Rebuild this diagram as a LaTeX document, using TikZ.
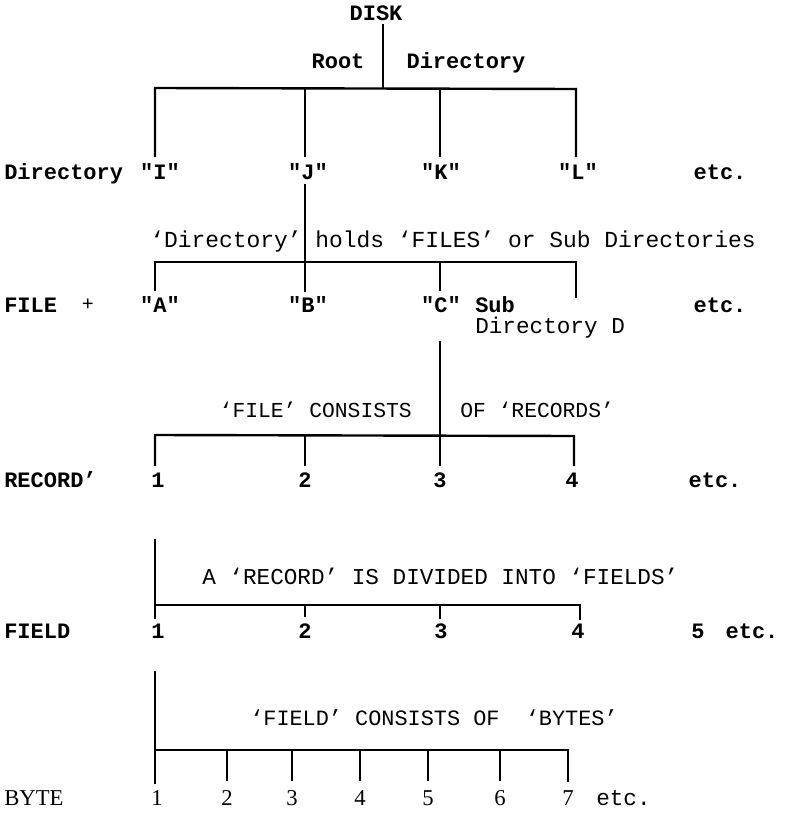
\documentclass[tikz,border=0pt]{standalone}
\usepackage{fontspec}
\setmainfont{Liberation Serif}
\setmonofont{Liberation Mono}
\tikzset{
  bus/.style={line width=1.8pt, line cap=rect},
  lbl/.style={inner sep=0pt, font=\fontsize{16.5}{18}\selectfont\ttfamily\bfseries},
  txt/.style={inner sep=0pt, font=\fontsize{17}{19}\selectfont\ttfamily},
  ser/.style={inner sep=0pt, font=\fontsize{17}{19}\selectfont\rmfamily},
}
\begin{document}
\begin{tikzpicture}[x=0.75pt,y=-0.75pt]
\useasboundingbox (0,0) rectangle (794,817);
% ---------- level 1 ----------
\node[lbl, anchor=base] (disk) at (376,21) {DISK};
\node[lbl, anchor=base] (root) at (338,69) {Root};
\node[lbl, anchor=base] (rootdir) at (466,69) {Directory};
\coordinate (d0) at (383,25);
\coordinate (h1a) at (155,88); \coordinate (h1b) at (305,88);
\coordinate (h1c) at (383,88); \coordinate (h1d) at (440,90);
\coordinate (h1e) at (576,89);
\coordinate (v1a) at (155,156); \coordinate (v1b) at (305,156);
\coordinate (v1d) at (440,156); \coordinate (v1e) at (576,156);
\draw[bus] (d0) -- (h1c);
\draw[bus] (v1a) -- (h1a) -- (h1e) -- (v1e);
\draw[bus] (h1b) -- (v1b);
\draw[bus] (h1d) -- (v1d);
% row Directory
\node[lbl, anchor=base west] (dirlbl) at (4,179) {Directory};
\node[lbl, anchor=base] (qI) at (160,179) {"I"};
\node[lbl, anchor=base] (qJ) at (308,179) {"J"};
\node[lbl, anchor=base] (qK) at (441,179) {"K"};
\node[lbl, anchor=base] (qL) at (578,179) {"L"};
\node[lbl, anchor=base] (etc1) at (720,179) {etc.};
% ---------- level 2 ----------
\node[txt, anchor=base west, font=\fontsize{17.2}{19}\selectfont\ttfamily] (t2) at (150,247) {‘Directory’ holds ‘FILES’ or Sub Directories};
\coordinate (j0) at (305,185); \coordinate (j1) at (305,291);
\coordinate (h2a) at (155,262); \coordinate (h2d) at (440,262);
\coordinate (h2e) at (576,262);
\coordinate (v2a) at (155,290); \coordinate (v2d) at (440,290);
\coordinate (v2e) at (576,297);
\draw[bus] (j0) -- (j1);
\draw[bus] (v2a) -- (h2a) -- (h2e) -- (v2e);
\draw[bus] (h2d) -- (v2d);
% row FILE
\node[lbl, anchor=base west] (filelbl) at (4,312) {FILE};
\node[lbl, anchor=base, font=\fontsize{15}{16}\selectfont\ttfamily] (plus) at (88,310) {+};
\node[lbl, anchor=base] (qA) at (160,312) {"A"};
\node[lbl, anchor=base] (qB) at (308,312) {"B"};
\node[lbl, anchor=base] (qC) at (441,312) {"C"};
\node[lbl, anchor=base west] (sub) at (475,312) {Sub};
\node[txt, anchor=base west] (subdir) at (475,333) {Directory D};
\node[lbl, anchor=base] (etc2) at (720,312) {etc.};
% ---------- level 3 ----------
\node[txt, anchor=base east, font=\fontsize{16}{18}\selectfont\ttfamily] (t3a) at (412,417) {‘FILE’ CONSISTS};
\node[txt, anchor=base west, font=\fontsize{16}{18}\selectfont\ttfamily] (t3b) at (460,417) {OF ‘RECORDS’};
\coordinate (c0) at (440,342); \coordinate (c1) at (440,465);
\coordinate (h3a) at (155,435); \coordinate (h3b) at (305,436);
\coordinate (h3e) at (574,436);
\coordinate (v3a) at (155,465); \coordinate (v3b) at (305,465);
\coordinate (v3e) at (574,465);
\draw[bus] (c0) -- (c1);
\draw[bus] (v3a) -- (h3a) -- (h3e) -- (v3e);
\draw[bus] (h3b) -- (v3b);
% row RECORD
\node[lbl, anchor=base west] (reclbl) at (4,487) {RECORD’};
\node[lbl, anchor=base] (r1) at (158,487) {1};
\node[lbl, anchor=base] (r2) at (305,487) {2};
\node[lbl, anchor=base] (r3) at (440,487) {3};
\node[lbl, anchor=base] (r4) at (572,487) {4};
\node[lbl, anchor=base] (etc3) at (715,487) {etc.};
% ---------- level 4 ----------
\node[txt, anchor=base west] (t4) at (202,584) {A ‘RECORD’ IS DIVIDED INTO ‘FIELDS’};
\coordinate (e0) at (155,540); \coordinate (e1) at (155,618);
\coordinate (h4a) at (155,605); \coordinate (h4b) at (305,605);
\coordinate (h4c) at (440,605); \coordinate (h4e) at (580,605);
\coordinate (v4b) at (305,616); \coordinate (v4c) at (440,618);
\coordinate (v4e) at (580,619);
\draw[bus] (e0) -- (e1);
\draw[bus] (h4a) -- (h4e) -- (v4e);
\draw[bus] (h4b) -- (v4b);
\draw[bus] (h4c) -- (v4c);
% row FIELD
\node[lbl, anchor=base west] (fldlbl) at (4,638) {FIELD};
\node[lbl, anchor=base] (f1) at (158,638) {1};
\node[lbl, anchor=base] (f2) at (305,638) {2};
\node[lbl, anchor=base] (f3) at (441,638) {3};
\node[lbl, anchor=base] (f4) at (578,638) {4};
\node[lbl, anchor=base] (f5) at (698,638) {5};
\node[lbl, anchor=base] (etc4) at (752,638) {etc.};
% ---------- level 5 ----------
\node[txt, anchor=base west, font=\fontsize{16.4}{18}\selectfont\ttfamily] (t5) at (250,725) {‘FIELD’ CONSISTS OF\ \ ‘BYTES’};
\coordinate (g0) at (155,672); \coordinate (g1) at (155,783);
\coordinate (h5a) at (155,750); \coordinate (h5e) at (568,750);
\coordinate (v5e) at (568,781);
\draw[bus] (g0) -- (g1);
\draw[bus] (h5a) -- (h5e) -- (v5e);
\foreach \xx/\nm in {227/b2, 292/b3, 360/b4, 428/b5, 500/b6}{
  \coordinate (t\nm) at (\xx,750);
  \coordinate (u\nm) at (\xx,780);
  \draw[bus] (t\nm) -- (u\nm);
}
% row BYTE
\node[ser, anchor=base west] (bytelbl) at (4,805) {BYTE};
\node[ser, anchor=base] (b1) at (157,805) {1};
\node[ser, anchor=base] (b2) at (227,805) {2};
\node[ser, anchor=base] (b3) at (292,805) {3};
\node[ser, anchor=base] (b4) at (360,805) {4};
\node[ser, anchor=base] (b5) at (428,805) {5};
\node[ser, anchor=base] (b6) at (500,805) {6};
\node[ser, anchor=base] (b7) at (568,805) {7};
\node[txt, anchor=base west] (etc5) at (596,805) {etc.};
\end{tikzpicture}
\end{document}
